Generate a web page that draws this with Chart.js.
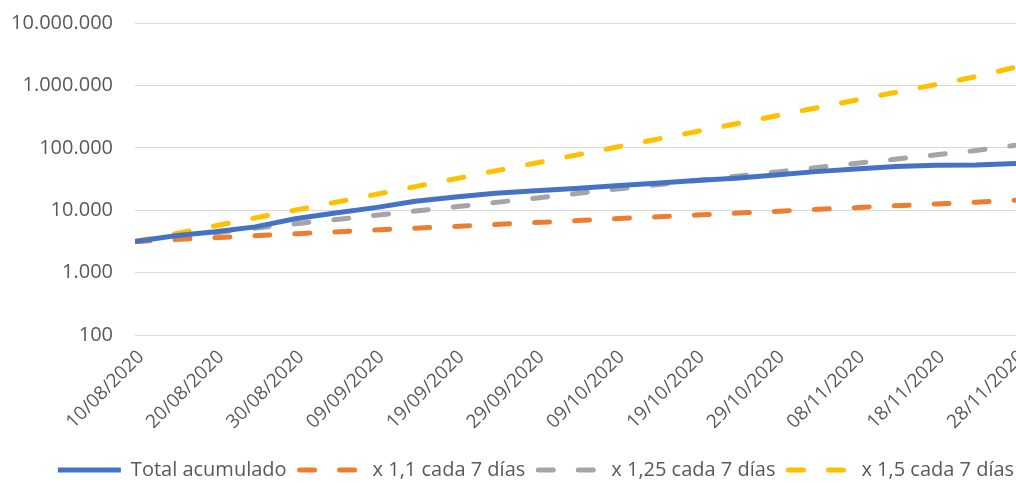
<!DOCTYPE html>
<html>
<head>
<meta charset="utf-8">
<script src="https://cdn.jsdelivr.net/npm/chart.js@4"></script>
<style>
  html, body { margin: 0; padding: 0; background: #fff; }
  #wrap { width: 1016px; height: 483px; }
</style>
</head>
<body>
<div id="wrap"><canvas id="chart"></canvas></div>
<script>
// etiquetas del eje X (cada 10 días)
const dateLabels = ['10/08/2020', '20/08/2020', '30/08/2020', '09/09/2020', '19/09/2020', '29/09/2020',
    '09/10/2020', '19/10/2020', '29/10/2020', '08/11/2020', '18/11/2020', '28/11/2020'];
const yTicks = [100, 1000, 10000, 100000, 1000000, 10000000];

// días desde 10/08/2020
const totalDays = [0, 5, 10, 15, 20, 25, 30, 35, 40, 45, 50, 55, 60, 65, 70, 75, 80, 85, 90, 95, 100, 105, 110];
const totalAcumulado = [3150, 3900, 4500, 5400, 7300, 9000, 11000, 13900, 16300, 18700, 20500, 22300,
    24700, 27100, 30000, 32500, 36600, 41500, 45800, 50000, 52400, 53000, 55800];

const weekDays = [0, 7, 14, 21, 28, 35, 42, 49, 56, 63, 70, 77, 84, 91, 98, 105, 110];
const x11 = [3150, 3480, 3850, 4250, 4680, 5150, 5650, 6250, 6900, 7600, 8350, 9200, 10150, 11150, 12250, 13400, 14500];
const x125 = [3150, 3900, 5000, 6250, 7750, 9700, 12100, 15100, 19100, 23900, 29700, 37200, 46500, 58000, 72500, 90500, 110000];
const x15 = [3150, 4700, 7100, 10600, 15900, 23900, 35800, 53800, 80700, 121000, 181000, 272000, 410000, 615000, 920000, 1380000, 1970000];

const toPoints = (days, vals) => days.map((d, i) => ({ x: d, y: vals[i] }));
const fmt = v => String(v).replace(/\B(?=(\d{3})+(?!\d))/g, '.');

Chart.defaults.font.family = "'Open Sans', sans-serif";
Chart.defaults.color = '#595959';

function lineSet(label, days, vals, color, dashed) {
    return {
        label: label,
        data: toPoints(days, vals),
        borderColor: color,
        backgroundColor: color,
        borderWidth: 5,
        borderDash: dashed ? [15, 25] : [],
        borderCapStyle: dashed ? 'round' : 'butt',
        pointRadius: 0,
        tension: 0,
        fill: false
    };
}

// la leyenda del original va algo desplazada a la derecha
const legendShift = {
    id: 'legendShift',
    afterLayout(chart) {
        if (!chart.legend) return;
        chart.legend.left += 28;
        chart.legend.right += 28;
    }
};

// muestras de la leyenda con el mismo trazo que la serie
function legendLabels(chart) {
    const items = Chart.defaults.plugins.legend.labels.generateLabels(chart);
    items.forEach(item => {
        const ds = chart.data.datasets[item.datasetIndex];
        item.lineDash = ds.borderDash;
        item.lineCap = ds.borderCapStyle;
        item.lineWidth = ds.borderWidth;
        item.strokeStyle = ds.borderColor;
        item.fillStyle = ds.borderColor;
    });
    return items;
}

new Chart(document.getElementById('chart'), {
    type: 'line',
    data: {
        datasets: [
            lineSet('Total acumulado', totalDays, totalAcumulado, '#4472C4', false),
            lineSet('x 1,1 cada 7 días', weekDays, x11, '#ED7D31', true),
            lineSet('x 1,25 cada 7 días', weekDays, x125, '#A5A5A5', true),
            lineSet('x 1,5 cada 7 días', weekDays, x15, '#FFC000', true)
        ]
    },
    plugins: [legendShift],
    options: {
        responsive: true,
        maintainAspectRatio: false,
        animation: false,
        layout: {
            padding: { left: 0, right: 0, top: 23, bottom: -7 }
        },
        plugins: {
            legend: {
                position: 'bottom',
                labels: {
                    usePointStyle: true,
                    pointStyle: 'line',
                    pointStyleWidth: 63,
                    padding: 13,
                    font: { size: 20 },
                    color: '#595959',
                    generateLabels: legendLabels
                }
            },
            tooltip: { enabled: false }
        },
        scales: {
            x: {
                type: 'linear',
                min: 0,
                max: 110,
                grid: { display: false },
                border: { display: false },
                ticks: {
                    stepSize: 10,
                    autoSkip: false,
                    minRotation: 45,
                    maxRotation: 45,
                    padding: 3,
                    labelOffset: 6,
                    font: { size: 19 },
                    color: '#595959',
                    callback: v => dateLabels[Math.round(v / 10)]
                },
                afterFit: scale => {
                    scale.paddingLeft = 0;
                    scale.paddingRight = 0;
                    scale.height = 112;
                }
            },
            y: {
                type: 'logarithmic',
                min: 100,
                max: 10000000,
                afterBuildTicks: axis => {
                    axis.ticks = yTicks.map(v => ({ value: v }));
                },
                afterFit: scale => {
                    scale.width = 135;
                    scale.paddingTop = 0;
                    scale.paddingBottom = 0;
                },
                border: { display: false },
                grid: {
                    color: '#D9D9D9',
                    lineWidth: 1,
                    drawTicks: false
                },
                ticks: {
                    padding: 22,
                    font: { size: 20 },
                    color: '#595959',
                    callback: v => fmt(v)
                }
            }
        }
    }
});
</script>
</body>
</html>
